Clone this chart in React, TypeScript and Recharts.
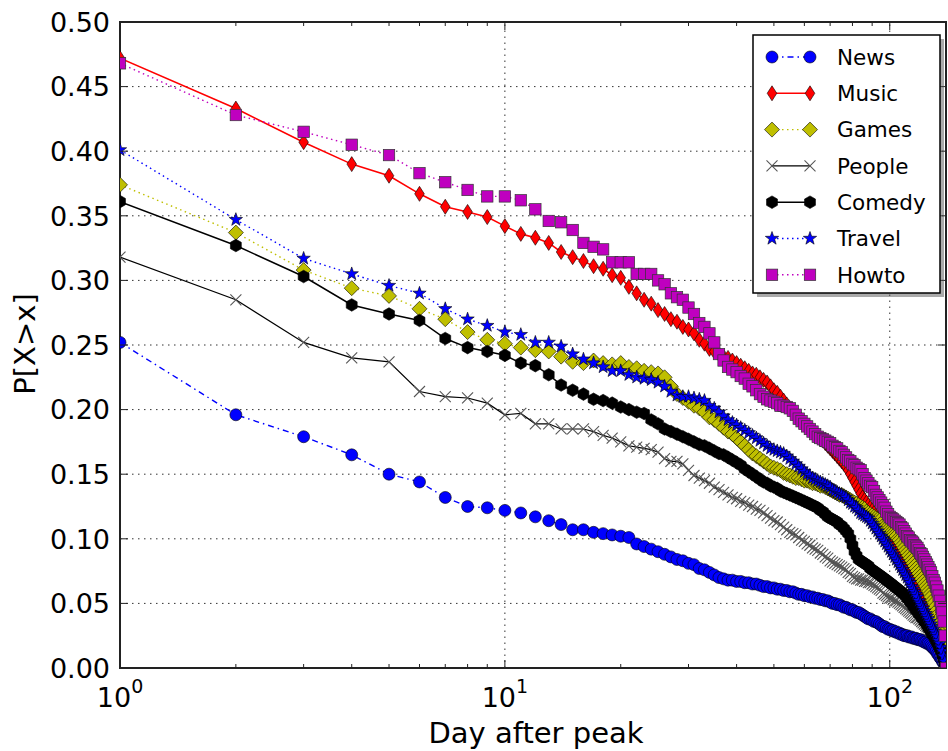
import React from 'react'
import {
  LineChart,
  Line,
  XAxis,
  YAxis,
  CartesianGrid,
  ReferenceLine,
  ReferenceArea,
} from 'recharts'

const W = 948
const H = 751
const PLOT_LEFT = 120
const PLOT_RIGHT = 946
const PLOT_TOP = 22
const PLOT_BOTTOM = 668
const FONT = '"DejaVu Sans", Verdana, sans-serif'

// day after peak, 1..140
const days = Array.from({ length: 140 }, (_, i) => i + 1)

const news = [
  0.252, 0.196, 0.179, 0.165, 0.150, 0.144, 0.132, 0.125, 0.124, 0.122,
  0.120, 0.117, 0.114, 0.111, 0.107, 0.107, 0.105, 0.104, 0.103, 0.102,
  0.101, 0.096, 0.094, 0.092, 0.090, 0.088, 0.086, 0.084, 0.083, 0.081,
  0.080, 0.077, 0.076, 0.074, 0.072, 0.070, 0.069, 0.068, 0.068, 0.067,
  0.067, 0.066, 0.066, 0.065, 0.065, 0.064, 0.063, 0.063, 0.062, 0.062,
  0.061, 0.061, 0.060, 0.060, 0.059, 0.059, 0.058, 0.057, 0.057, 0.056,
  0.056, 0.055, 0.055, 0.054, 0.054, 0.053, 0.053, 0.052, 0.052, 0.051,
  0.050, 0.050, 0.049, 0.049, 0.048, 0.047, 0.047, 0.046, 0.045, 0.045,
  0.044, 0.043, 0.043, 0.042, 0.041, 0.040, 0.039, 0.038, 0.038, 0.037,
  0.036, 0.036, 0.035, 0.034, 0.033, 0.032, 0.032, 0.031, 0.030, 0.030,
  0.029, 0.029, 0.028, 0.028, 0.027, 0.027, 0.026, 0.026, 0.025, 0.025,
  0.025, 0.024, 0.024, 0.024, 0.023, 0.023, 0.023, 0.022, 0.022, 0.022,
  0.021, 0.021, 0.020, 0.020, 0.019, 0.019, 0.018, 0.017, 0.016, 0.015,
  0.014, 0.013, 0.011, 0.010, 0.008, 0.007, 0.005, 0.004, 0.002, 0.000,
]

const music = [
  0.472, 0.433, 0.407, 0.390, 0.381, 0.367, 0.357, 0.353, 0.349, 0.342,
  0.336, 0.333, 0.329, 0.322, 0.318, 0.315, 0.311, 0.309, 0.304, 0.302,
  0.295, 0.290, 0.285, 0.282, 0.277, 0.274, 0.270, 0.268, 0.264, 0.262,
  0.259, 0.254, 0.251, 0.247, 0.245, 0.243, 0.241, 0.240, 0.238, 0.236,
  0.234, 0.232, 0.230, 0.228, 0.227, 0.225, 0.223, 0.221, 0.218, 0.215,
  0.213, 0.210, 0.207, 0.204, 0.201, 0.198, 0.196, 0.194, 0.192, 0.190,
  0.187, 0.185, 0.183, 0.181, 0.179, 0.177, 0.176, 0.174, 0.172, 0.170,
  0.168, 0.166, 0.164, 0.162, 0.160, 0.158, 0.156, 0.153, 0.150, 0.147,
  0.144, 0.141, 0.138, 0.135, 0.132, 0.130, 0.128, 0.126, 0.124, 0.122,
  0.120, 0.118, 0.116, 0.114, 0.113, 0.111, 0.110, 0.108, 0.107, 0.105,
  0.103, 0.101, 0.099, 0.097, 0.095, 0.093, 0.091, 0.088, 0.085, 0.082,
  0.080, 0.078, 0.076, 0.075, 0.073, 0.071, 0.069, 0.067, 0.065, 0.063,
  0.061, 0.059, 0.057, 0.055, 0.053, 0.051, 0.049, 0.047, 0.045, 0.043,
  0.040, 0.037, 0.034, 0.031, 0.027, 0.023, 0.018, 0.013, 0.007, 0.000,
]

const games = [
  0.374, 0.337, 0.308, 0.294, 0.288, 0.278, 0.270, 0.260, 0.254, 0.251,
  0.248, 0.246, 0.245, 0.241, 0.237, 0.236, 0.238, 0.236, 0.235, 0.236,
  0.233, 0.232, 0.230, 0.229, 0.228, 0.225, 0.218, 0.212, 0.209, 0.206,
  0.203, 0.201, 0.198, 0.194, 0.192, 0.189, 0.186, 0.183, 0.181, 0.178,
  0.175, 0.172, 0.169, 0.166, 0.164, 0.162, 0.160, 0.158, 0.156, 0.155,
  0.154, 0.153, 0.151, 0.150, 0.149, 0.148, 0.147, 0.147, 0.146, 0.145,
  0.145, 0.144, 0.143, 0.143, 0.142, 0.141, 0.141, 0.140, 0.139, 0.138,
  0.137, 0.136, 0.135, 0.134, 0.134, 0.133, 0.132, 0.131, 0.130, 0.129,
  0.128, 0.127, 0.126, 0.125, 0.124, 0.123, 0.121, 0.120, 0.119, 0.118,
  0.117, 0.116, 0.115, 0.114, 0.112, 0.110, 0.109, 0.108, 0.107, 0.106,
  0.105, 0.104, 0.103, 0.102, 0.100, 0.099, 0.097, 0.095, 0.093, 0.091,
  0.089, 0.087, 0.085, 0.083, 0.081, 0.079, 0.077, 0.075, 0.073, 0.071,
  0.069, 0.067, 0.065, 0.063, 0.061, 0.059, 0.057, 0.055, 0.052, 0.050,
  0.047, 0.044, 0.041, 0.038, 0.035, 0.031, 0.026, 0.020, 0.012, 0.000,
]

const people = [
  0.318, 0.285, 0.252, 0.240, 0.237, 0.214, 0.210, 0.209, 0.205, 0.196,
  0.197, 0.189, 0.189, 0.185, 0.185, 0.185, 0.183, 0.180, 0.178, 0.175,
  0.172, 0.171, 0.170, 0.169, 0.167, 0.162, 0.160, 0.160, 0.158, 0.153,
  0.149, 0.147, 0.145, 0.143, 0.140, 0.138, 0.136, 0.134, 0.132, 0.131,
  0.129, 0.128, 0.126, 0.125, 0.123, 0.122, 0.120, 0.118, 0.116, 0.114,
  0.113, 0.111, 0.109, 0.107, 0.105, 0.104, 0.103, 0.101, 0.099, 0.098,
  0.096, 0.095, 0.093, 0.092, 0.091, 0.089, 0.088, 0.086, 0.085, 0.083,
  0.082, 0.081, 0.080, 0.079, 0.078, 0.077, 0.076, 0.074, 0.073, 0.071,
  0.070, 0.069, 0.069, 0.068, 0.068, 0.067, 0.067, 0.066, 0.066, 0.065,
  0.064, 0.063, 0.062, 0.061, 0.060, 0.058, 0.057, 0.056, 0.055, 0.054,
  0.054, 0.053, 0.052, 0.052, 0.051, 0.050, 0.049, 0.048, 0.047, 0.046,
  0.045, 0.044, 0.043, 0.042, 0.041, 0.040, 0.039, 0.039, 0.038, 0.037,
  0.036, 0.035, 0.034, 0.033, 0.032, 0.031, 0.030, 0.029, 0.028, 0.027,
  0.025, 0.023, 0.021, 0.019, 0.016, 0.013, 0.010, 0.007, 0.004, 0.000,
]

const comedy = [
  0.361, 0.327, 0.303, 0.281, 0.274, 0.269, 0.255, 0.248, 0.245, 0.242,
  0.236, 0.234, 0.227, 0.219, 0.215, 0.212, 0.208, 0.207, 0.205, 0.202,
  0.200, 0.198, 0.197, 0.192, 0.189, 0.185, 0.183, 0.181, 0.179, 0.177,
  0.175, 0.173, 0.172, 0.170, 0.168, 0.166, 0.165, 0.163, 0.161, 0.159,
  0.157, 0.154, 0.152, 0.150, 0.148, 0.146, 0.144, 0.143, 0.141, 0.140,
  0.139, 0.137, 0.136, 0.135, 0.134, 0.133, 0.132, 0.131, 0.130, 0.129,
  0.128, 0.127, 0.126, 0.125, 0.124, 0.122, 0.121, 0.119, 0.117, 0.116,
  0.115, 0.114, 0.113, 0.111, 0.110, 0.108, 0.106, 0.104, 0.100, 0.095,
  0.090, 0.087, 0.084, 0.083, 0.082, 0.081, 0.080, 0.079, 0.077, 0.076,
  0.075, 0.074, 0.073, 0.072, 0.071, 0.070, 0.069, 0.068, 0.067, 0.066,
  0.065, 0.064, 0.063, 0.062, 0.061, 0.060, 0.059, 0.058, 0.057, 0.056,
  0.054, 0.053, 0.051, 0.050, 0.048, 0.047, 0.045, 0.044, 0.042, 0.041,
  0.039, 0.038, 0.036, 0.035, 0.033, 0.031, 0.030, 0.028, 0.026, 0.025,
  0.023, 0.021, 0.019, 0.017, 0.015, 0.013, 0.010, 0.007, 0.004, 0.000,
]

const travel = [
  0.401, 0.347, 0.317, 0.305, 0.296, 0.290, 0.278, 0.270, 0.265, 0.260,
  0.258, 0.252, 0.252, 0.249, 0.243, 0.239, 0.236, 0.233, 0.230, 0.230,
  0.227, 0.225, 0.224, 0.223, 0.221, 0.218, 0.214, 0.211, 0.210, 0.210,
  0.209, 0.208, 0.207, 0.203, 0.201, 0.198, 0.195, 0.192, 0.190, 0.188,
  0.186, 0.184, 0.182, 0.180, 0.178, 0.176, 0.174, 0.172, 0.170, 0.169,
  0.168, 0.167, 0.166, 0.164, 0.162, 0.160, 0.158, 0.156, 0.154, 0.152,
  0.150, 0.149, 0.147, 0.146, 0.145, 0.144, 0.143, 0.142, 0.141, 0.140,
  0.138, 0.137, 0.136, 0.135, 0.134, 0.133, 0.132, 0.130, 0.128, 0.127,
  0.125, 0.124, 0.122, 0.120, 0.119, 0.118, 0.117, 0.116, 0.114, 0.112,
  0.110, 0.108, 0.106, 0.104, 0.102, 0.100, 0.098, 0.096, 0.094, 0.092,
  0.090, 0.088, 0.086, 0.084, 0.082, 0.080, 0.078, 0.076, 0.074, 0.072,
  0.070, 0.068, 0.066, 0.063, 0.061, 0.059, 0.057, 0.055, 0.052, 0.050,
  0.048, 0.046, 0.044, 0.042, 0.040, 0.038, 0.036, 0.034, 0.032, 0.030,
  0.028, 0.026, 0.024, 0.021, 0.019, 0.016, 0.013, 0.009, 0.005, 0.000,
]

const howto = [
  0.468, 0.428, 0.415, 0.405, 0.397, 0.383, 0.376, 0.370, 0.365, 0.365,
  0.362, 0.355, 0.346, 0.345, 0.339, 0.329, 0.326, 0.324, 0.314, 0.314,
  0.314, 0.305, 0.305, 0.305, 0.300, 0.297, 0.290, 0.287, 0.285, 0.279,
  0.274, 0.267, 0.264, 0.259, 0.252, 0.243, 0.238, 0.233, 0.231, 0.229,
  0.226, 0.224, 0.220, 0.218, 0.215, 0.212, 0.210, 0.208, 0.207, 0.206,
  0.205, 0.203, 0.203, 0.202, 0.201, 0.199, 0.196, 0.193, 0.191, 0.189,
  0.187, 0.185, 0.183, 0.181, 0.179, 0.178, 0.177, 0.176, 0.175, 0.174,
  0.172, 0.171, 0.170, 0.168, 0.167, 0.165, 0.163, 0.161, 0.160, 0.158,
  0.157, 0.155, 0.154, 0.153, 0.150, 0.147, 0.145, 0.143, 0.141, 0.140,
  0.137, 0.134, 0.132, 0.130, 0.128, 0.126, 0.124, 0.121, 0.119, 0.117,
  0.116, 0.115, 0.114, 0.113, 0.112, 0.111, 0.109, 0.108, 0.106, 0.104,
  0.102, 0.101, 0.099, 0.098, 0.097, 0.095, 0.094, 0.093, 0.091, 0.089,
  0.088, 0.086, 0.084, 0.082, 0.080, 0.078, 0.076, 0.074, 0.071, 0.068,
  0.066, 0.063, 0.060, 0.056, 0.052, 0.047, 0.043, 0.036, 0.025, 0.000,
]

const majorXTicks = [1, 10, 100]
const xTickExponents = ['0', '1', '2']
const minorXTicks = [2, 3, 4, 5, 6, 7, 8, 9, 20, 30, 40, 50, 60, 70, 80, 90]
const yTicks = [0, 0.05, 0.1, 0.15, 0.2, 0.25, 0.3, 0.35, 0.4, 0.45, 0.5]
const yTickLabels = ['0.00', '0.05', '0.10', '0.15', '0.20', '0.25', '0.30', '0.35', '0.40', '0.45', '0.50']

type MarkerKind = 'circle' | 'thinDiamond' | 'diamond' | 'x' | 'hexagon' | 'star' | 'square'

const series: {
  key: string
  name: string
  values: number[]
  color: string
  marker: MarkerKind
  dash?: string
  width: number
}[] = [
  { key: 'news', name: 'News', values: news, color: '#0000ff', marker: 'circle', dash: '6 4 1.5 4', width: 1.4 },
  { key: 'music', name: 'Music', values: music, color: '#ff0000', marker: 'thinDiamond', width: 1.6 },
  { key: 'games', name: 'Games', values: games, color: '#bfbf00', marker: 'diamond', dash: '1.5 3.5', width: 1.4 },
  { key: 'people', name: 'People', values: people, color: '#000000', marker: 'x', width: 1.2 },
  { key: 'comedy', name: 'Comedy', values: comedy, color: '#000000', marker: 'hexagon', width: 1.5 },
  { key: 'travel', name: 'Travel', values: travel, color: '#0000ff', marker: 'star', dash: '1.5 3.5', width: 1.4 },
  { key: 'howto', name: 'Howto', values: howto, color: '#bf00bf', marker: 'square', dash: '1.5 3.5', width: 1.4 },
]

const rows = days.map((d, i) => {
  const row: Record<string, number> = { day: d }
  series.forEach((s) => {
    row[s.key] = s.values[i]
  })
  return row
})

function polyPoints(cx: number, cy: number, n: number, r: number, start: number, inner?: number) {
  const pts: string[] = []
  const count = inner ? n * 2 : n
  for (let k = 0; k < count; k++) {
    const a = start + (k * Math.PI * 2) / count
    const rr = inner && k % 2 === 1 ? inner : r
    pts.push(`${cx + rr * Math.cos(a)},${cy + rr * Math.sin(a)}`)
  }
  return pts.join(' ')
}

function Marker({ kind, cx, cy, color }: { kind: MarkerKind; cx?: number; cy?: number; color: string }) {
  if (cx == null || cy == null || isNaN(cx) || isNaN(cy)) return null
  const edge = '#000'
  switch (kind) {
    case 'circle':
      return <circle cx={cx} cy={cy} r={6} fill={color} stroke={edge} strokeWidth={0.6} />
    case 'thinDiamond':
      return (
        <polygon
          points={`${cx},${cy - 7.5} ${cx + 4.8},${cy} ${cx},${cy + 7.5} ${cx - 4.8},${cy}`}
          fill={color}
          stroke={edge}
          strokeWidth={0.6}
        />
      )
    case 'diamond':
      return (
        <polygon
          points={`${cx},${cy - 7.5} ${cx + 7.5},${cy} ${cx},${cy + 7.5} ${cx - 7.5},${cy}`}
          fill={color}
          stroke={edge}
          strokeWidth={0.6}
        />
      )
    case 'x':
      return (
        <g stroke="#555" strokeWidth={1.1}>
          <line x1={cx - 5.5} y1={cy - 5.5} x2={cx + 5.5} y2={cy + 5.5} />
          <line x1={cx - 5.5} y1={cy + 5.5} x2={cx + 5.5} y2={cy - 5.5} />
        </g>
      )
    case 'hexagon':
      return <polygon points={polyPoints(cx, cy, 6, 6.3, -Math.PI / 2)} fill={color} stroke={edge} strokeWidth={0.6} />
    case 'star':
      return <polygon points={polyPoints(cx, cy, 5, 7, -Math.PI / 2, 2.8)} fill={color} stroke={edge} strokeWidth={0.6} />
    case 'square':
      return <rect x={cx - 5.7} y={cy - 5.7} width={11.4} height={11.4} fill={color} stroke="#333" strokeWidth={0.7} />
    default:
      return null
  }
}

function renderXTick(props: any) {
  const { x, payload, index } = props
  const v = payload.value
  const mi = majorXTicks.indexOf(v)
  const len = mi >= 0 ? 8 : 4
  return (
    <g key={`xt-${index}`}>
      <line x1={x} x2={x} y1={PLOT_BOTTOM} y2={PLOT_BOTTOM - len} stroke="#222" strokeWidth={1} />
      <line x1={x} x2={x} y1={PLOT_TOP} y2={PLOT_TOP + len} stroke="#222" strokeWidth={1} />
      {mi >= 0 && (
        <text x={x} y={707} textAnchor="middle" fontSize={27} fill="#000" fontFamily={FONT}>
          10
          <tspan dy={-14} fontSize={19}>
            {xTickExponents[mi]}
          </tspan>
        </text>
      )}
    </g>
  )
}

function renderYTick(props: any) {
  const { y, payload, index } = props
  const i = yTicks.indexOf(payload.value)
  return (
    <g key={`yt-${index}`}>
      <line x1={PLOT_LEFT} x2={PLOT_LEFT + 8} y1={y} y2={y} stroke="#222" strokeWidth={1} />
      <line x1={PLOT_RIGHT - 8} x2={PLOT_RIGHT} y1={y} y2={y} stroke="#222" strokeWidth={1} />
      <text x={110} y={y} dy="0.36em" textAnchor="end" fontSize={27} fill="#000" fontFamily={FONT}>
        {i >= 0 ? yTickLabels[i] : payload.value}
      </text>
    </g>
  )
}

function XTitle() {
  return (
    <text x={536} y={743} textAnchor="middle" fontSize={29} fill="#000" fontFamily={FONT}>
      Day after peak
    </text>
  )
}

function YTitle() {
  return (
    <text
      x={35}
      y={344}
      textAnchor="middle"
      fontSize={29}
      fill="#000"
      fontFamily={FONT}
      transform="rotate(-90, 35, 344)"
    >
      P[X&gt;x]
    </text>
  )
}

function LegendBox() {
  const left = 753
  const top = 35
  const w = 187
  const h = 258
  return (
    <svg width={W} height={H} style={{ position: 'absolute', left: 0, top: 0, pointerEvents: 'none' }}>
      <rect x={left + 4} y={top + 4} width={w} height={h} fill="#555" opacity={0.5} />
      <rect x={left} y={top} width={w} height={h} fill="#fff" stroke="#000" strokeWidth={1.5} />
      {series.map((s, i) => {
        const ry = 57 + i * 36.3
        return (
          <g key={s.key}>
            <line x1={772} x2={810} y1={ry} y2={ry} stroke={s.color} strokeWidth={s.width} strokeDasharray={s.dash} />
            <Marker kind={s.marker} cx={772} cy={ry} color={s.color} />
            <Marker kind={s.marker} cx={810} cy={ry} color={s.color} />
            <text x={837} y={ry} dy="0.36em" fontSize={21.5} fill="#000" fontFamily={FONT}>
              {s.name}
            </text>
          </g>
        )
      })}
    </svg>
  )
}

export default function App() {
  const allXTicks = [...majorXTicks, ...minorXTicks].sort((a, b) => a - b)
  return (
    <div style={{ position: 'absolute', left: 0, top: 0, width: W, height: H, background: '#fff', fontFamily: FONT }}>
      <LineChart width={W} height={H} data={rows} margin={{ top: PLOT_TOP, right: W - PLOT_RIGHT, bottom: 0, left: 0 }}>
        <CartesianGrid vertical={false} stroke="#333" strokeDasharray="1.5 4.5" />
        <ReferenceLine x={10} stroke="#333" strokeDasharray="1.5 4.5" />
        <ReferenceLine x={100} stroke="#333" strokeDasharray="1.5 4.5" />
        <XAxis
          dataKey="day"
          type="number"
          scale="log"
          domain={[1, 140]}
          allowDataOverflow
          ticks={allXTicks}
          interval={0}
          tick={renderXTick}
          tickLine={false}
          axisLine={false}
          height={H - PLOT_BOTTOM}
          label={<XTitle />}
        />
        <YAxis
          type="number"
          domain={[0, 0.5]}
          allowDataOverflow
          ticks={yTicks}
          interval={0}
          tick={renderYTick}
          tickLine={false}
          axisLine={false}
          width={PLOT_LEFT}
          label={<YTitle />}
        />
        {series.map((s) => (
          <Line
            key={s.key}
            type="linear"
            dataKey={s.key}
            name={s.name}
            stroke={s.color}
            strokeWidth={s.width}
            strokeDasharray={s.dash}
            dot={(p: any) => <Marker key={`${s.key}-${p.index}`} kind={s.marker} cx={p.cx} cy={p.cy} color={s.color} />}
            activeDot={false}
            isAnimationActive={false}
          />
        ))}
        <ReferenceArea x1={1} x2={140} y1={0} y2={0.5} fill="none" stroke="#222" strokeWidth={2} />
      </LineChart>
      <LegendBox />
    </div>
  )
}
